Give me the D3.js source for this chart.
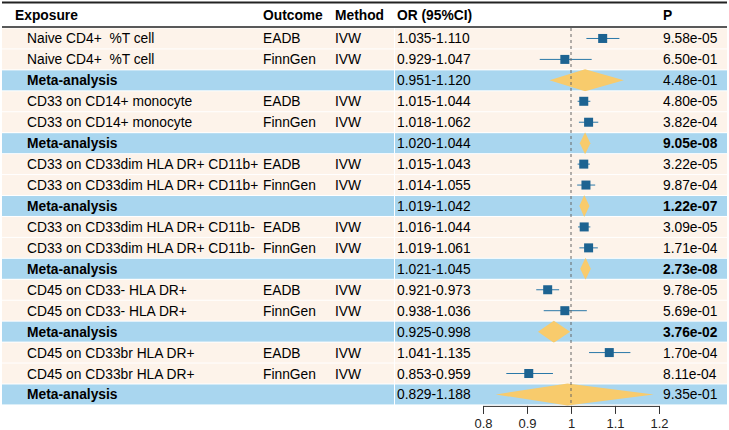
<!DOCTYPE html>
<html>
<head>
<meta charset="utf-8">
<script src="https://cdn.jsdelivr.net/npm/d3@7"></script>
<style>
  body { margin: 0; background: #fff; }
  text { font-family: "Liberation Sans", Arial, sans-serif; white-space: pre; }
</style>
</head>
<body>
<div class="playground"></div>
<script>
// table rows
var exposures = ["Naive CD4+  %T cell", "Naive CD4+  %T cell", "Meta-analysis",
  "CD33 on CD14+ monocyte", "CD33 on CD14+ monocyte", "Meta-analysis",
  "CD33 on CD33dim HLA DR+ CD11b+", "CD33 on CD33dim HLA DR+ CD11b+", "Meta-analysis",
  "CD33 on CD33dim HLA DR+ CD11b-", "CD33 on CD33dim HLA DR+ CD11b-", "Meta-analysis",
  "CD45 on CD33- HLA DR+", "CD45 on CD33- HLA DR+", "Meta-analysis",
  "CD45 on CD33br HLA DR+", "CD45 on CD33br HLA DR+", "Meta-analysis"];
var outcomes = ["EADB", "FinnGen", "", "EADB", "FinnGen", "", "EADB", "FinnGen", "",
  "EADB", "FinnGen", "", "EADB", "FinnGen", "", "EADB", "FinnGen", ""];
var methods = ["IVW", "IVW", "", "IVW", "IVW", "", "IVW", "IVW", "",
  "IVW", "IVW", "", "IVW", "IVW", "", "IVW", "IVW", ""];
var orEst = [1.072, 0.986, 1.032, 1.029, 1.040, 1.032, 1.029, 1.034, 1.030,
  1.030, 1.040, 1.033, 0.947, 0.986, 0.961, 1.087, 0.904, 0.992];
var ciLow = [1.035, 0.929, 0.951, 1.015, 1.018, 1.020, 1.015, 1.014, 1.019,
  1.016, 1.019, 1.021, 0.921, 0.938, 0.925, 1.041, 0.853, 0.829];
var ciHigh = [1.110, 1.047, 1.120, 1.044, 1.062, 1.044, 1.043, 1.055, 1.042,
  1.044, 1.061, 1.045, 0.973, 1.036, 0.998, 1.135, 0.959, 1.188];
var pvals = ["9.58e-05", "6.50e-01", "4.48e-01", "4.80e-05", "3.82e-04", "9.05e-08",
  "3.22e-05", "9.87e-04", "1.22e-07", "3.09e-05", "1.71e-04", "2.73e-08",
  "9.78e-05", "5.69e-01", "3.76e-02", "1.70e-04", "8.11e-04", "9.35e-01"];
var isMeta = [0, 0, 1, 0, 0, 1, 0, 0, 1, 0, 0, 1, 0, 0, 1, 0, 0, 1];
var boldP = [0, 0, 0, 0, 0, 1, 0, 0, 1, 0, 0, 1, 0, 0, 1, 0, 0, 0];
var xTicks = [0.8, 0.9, 1, 1.1, 1.2];

var data = exposures.map(function(e, i) {
  return {exposure: e, outcome: outcomes[i], method: methods[i], est: orEst[i],
    lo: ciLow[i], hi: ciHigh[i], p: pvals[i], meta: isMeta[i], bold: boldP[i]};
});

var W = 729, H = 430;
var svg = d3.select('.playground').append('svg')
  .attr('width', W).attr('height', H);

var top0 = 28, rowH = 20.94, fs = '13.8px';
var y = d3.scaleBand().domain(d3.range(data.length))
  .range([top0, top0 + rowH * data.length]).paddingInner(0);
var x = d3.scaleLinear().domain([0.8, 1.2]).range([483, 659]);

var peach = "#fdf3ea", blue = "#a9d6ef";

// row backgrounds (two blocks: table text / plot + P)
var rows = svg.selectAll('g.row').data(data).enter().append('g')
  .attr('class', 'row')
  .attr('transform', function(d, i) { return 'translate(0,' + y(i) + ')'; });

rows.append('rect').attr('x', 2).attr('y', 0.5)
  .attr('width', 392).attr('height', y.bandwidth() - 1)
  .style('fill', function(d) { return d.meta ? blue : peach; });
rows.append('rect').attr('x', 395).attr('y', 0.5)
  .attr('width', 332).attr('height', y.bandwidth() - 1)
  .style('fill', function(d) { return d.meta ? blue : peach; });

var ty = y.bandwidth() / 2 + 5;
rows.append('text').attr('x', 27).attr('y', ty)
  .style('font-size', fs)
  .style('font-weight', function(d) { return d.meta ? 'bold' : 'normal'; })
  .text(function(d) { return d.exposure; });
rows.append('text').attr('x', 263).attr('y', ty).style('font-size', fs)
  .text(function(d) { return d.outcome; });
rows.append('text').attr('x', 335).attr('y', ty).style('font-size', fs)
  .text(function(d) { return d.method; });
rows.append('text').attr('x', 397).attr('y', ty).style('font-size', fs)
  .text(function(d) { return d.lo.toFixed(3) + '-' + d.hi.toFixed(3); });
rows.append('text').attr('x', 663).attr('y', ty).style('font-size', fs)
  .style('font-weight', function(d) { return d.bold ? 'bold' : 'normal'; })
  .text(function(d) { return d.p; });

// header
var hy = 20;
[["Exposure", 15], ["Outcome", 263], ["Method", 335], ["OR (95%CI)", 397], ["P", 663]]
  .forEach(function(h) {
    svg.append('text').attr('x', h[1]).attr('y', hy)
      .style('font-size', fs).style('font-weight', 'bold').text(h[0]);
  });
svg.append('line').attr('x1', 2).attr('x2', 727).attr('y1', 2.5).attr('y2', 2.5)
  .style('stroke', '#222').style('stroke-width', 2);
svg.append('line').attr('x1', 2).attr('x2', 727).attr('y1', 27).attr('y2', 27)
  .style('stroke', '#222').style('stroke-width', 1.5);

// reference line
var bottom = top0 + rowH * data.length;
svg.append('line').attr('x1', x(1)).attr('x2', x(1))
  .attr('y1', top0).attr('y2', bottom + 1)
  .style('stroke', '#666').style('stroke-width', 1)
  .style('stroke-dasharray', '3,3');

// CI lines and boxes
var plain = rows.filter(function(d) { return !d.meta; });
plain.append('line')
  .attr('x1', function(d) { return x(d.lo); })
  .attr('x2', function(d) { return x(d.hi); })
  .attr('y1', y.bandwidth() / 2).attr('y2', y.bandwidth() / 2)
  .style('stroke', '#2a78a8').style('stroke-width', 1);
plain.append('rect')
  .attr('x', function(d) { return x(d.est) - 4.5; })
  .attr('y', y.bandwidth() / 2 - 4.5)
  .attr('width', 9).attr('height', 9)
  .style('fill', '#1d6391');

// diamonds
var meta = rows.filter(function(d) { return d.meta; });
meta.append('path')
  .attr('d', function(d) {
    var c = y.bandwidth() / 2, h = 11;
    return 'M' + x(d.lo) + ',' + c + 'L' + x(d.est) + ',' + (c - h) +
      'L' + x(d.hi) + ',' + c + 'L' + x(d.est) + ',' + (c + h) + 'Z';
  })
  .style('fill', '#f8cb6c');

// axis
var axis = svg.append('g').attr('transform', 'translate(0,' + (bottom + 1) + ')')
  .call(d3.axisBottom(x).tickValues(xTicks).tickSize(8).tickPadding(5)
    .tickFormat(function(d) { return d; }));
axis.select('.domain').style('stroke', '#333');
axis.selectAll('.tick line').style('stroke', '#333');
axis.selectAll('.tick text').style('font-size', '13px')
  .style('font-family', '"Liberation Sans", Arial, sans-serif').style('fill', '#222');
</script>
</body>
</html>
